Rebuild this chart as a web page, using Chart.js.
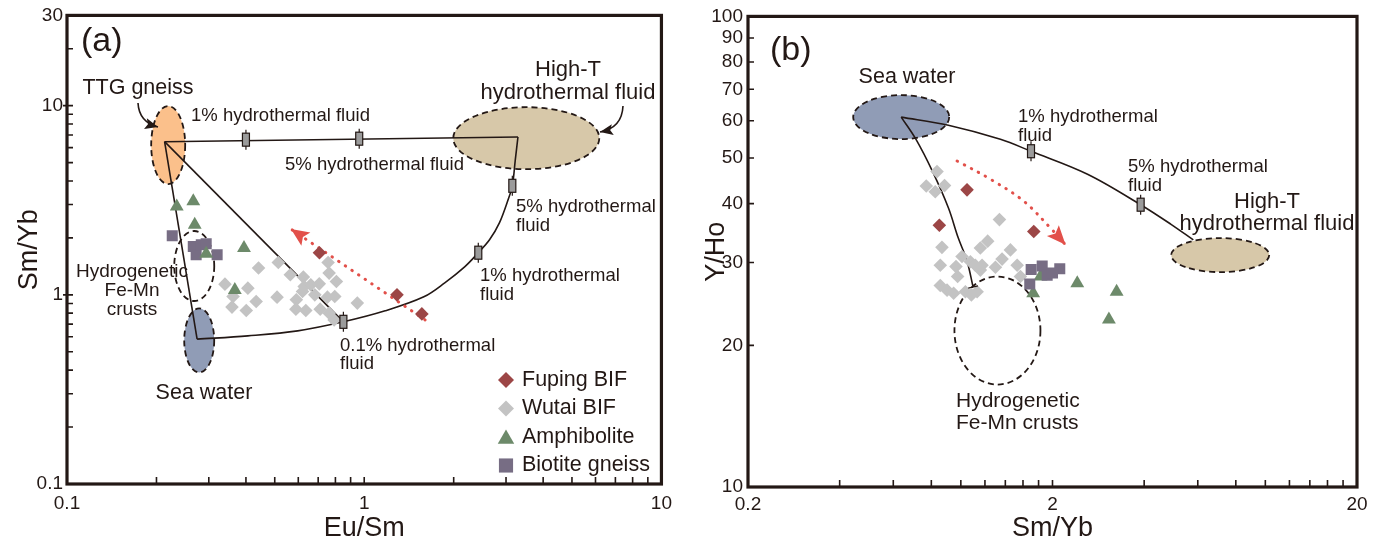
<!DOCTYPE html>
<html>
<head>
<meta charset="utf-8">
<title>Eu/Sm - Sm/Yb and Sm/Yb - Y/Ho mixing diagrams</title>
<script src="https://cdn.jsdelivr.net/npm/chart.js@4.4.1/dist/chart.umd.min.js"></script>
<style>
  body { margin: 0; background: #fff; }
  #wrap { position: relative; width: 1388px; height: 545px; overflow: hidden; }
  #wrap canvas { position: absolute; top: 0; }
  #chartA { left: 0; }
  #chartB { left: 680px; }
</style>
</head>
<body>
<div id="wrap">
  <canvas id="chartA" width="680" height="545"></canvas>
  <canvas id="chartB" width="708" height="545"></canvas>
</div>
<script>
const seriesNames = ["Fuping BIF", "Wutai BIF", "Amphibolite", "Biotite gneiss"];

/* ---- panel (a): Eu/Sm vs Sm/Yb ---- */
const aXTicks = [0.1, 1, 10];
const aYTicks = [0.1, 1, 10, 30];
const fupingA = [[0.707, 1.67], [1.289, 1.0], [1.563, 0.793]];
const wutaiA = [[0.441, 1.385], [0.514, 1.482], [0.564, 1.276], [0.624, 1.241], [0.340, 1.139], [0.406, 1.085],
  [0.362, 0.979], [0.433, 0.922], [0.509, 0.972], [0.591, 0.941], [0.620, 1.041], [0.628, 1.106], [0.661, 1.129],
  [0.706, 1.143], [0.682, 1.0], [0.752, 0.972], [0.796, 0.979], [0.756, 1.482], [0.762, 1.303], [0.806, 1.176],
  [0.359, 0.861], [0.401, 0.826], [0.589, 0.840], [0.636, 0.826], [0.711, 0.840], [0.762, 0.800], [0.792, 0.737],
  [0.948, 0.904]];
const amphA = [[0.234, 2.93], [0.266, 3.12], [0.269, 2.35], [0.294, 1.65], [0.394, 1.77], [0.367, 1.06]];
const biotiteA = [[0.226, 2.05], [0.266, 1.80], [0.272, 1.63], [0.283, 1.84], [0.294, 1.86], [0.320, 1.63]];

// end members and mixing lines (a)
const ttgA = [0.213, 6.45];
const seaA = [0.274, 0.583];
const highTA = [3.29, 6.83];
const mix01A = [0.851, 0.72];
const curveSeaHighTA = [seaA, [0.406, 0.607], [0.597, 0.645], mix01A, [1.176, 0.823], [1.587, 0.976], [1.866, 1.157],
  [2.177, 1.406], [2.42, 1.67], [2.64, 1.954], [2.85, 2.40], [3.048, 3.18], [3.15, 3.77], [3.224, 5.18], highTA];
const marksA = [[0.40, 6.61], [0.962, 6.69], [3.15, 3.77], [2.42, 1.67], mix01A];
const trendA = [[1.603, 0.737], [0.567, 2.227]];
const ttgFieldA = [0.219, 6.19];
const seaFieldA = [0.2785, 0.574];
const highTFieldA = [3.51, 6.73];
const hydroFieldA = [0.268, 1.42];

/* ---- panel (b): Sm/Yb vs Y/Ho ---- */
const bXTicks = [0.2, 2, 20];
const bYTicks = [10, 20, 30, 40, 50, 60, 70, 80, 90, 100];
const fupingB = [[1.048, 42.8], [0.850, 36.0], [1.736, 34.9]];
const wutaiB = [[0.835, 46.8], [0.770, 43.6], [0.824, 42.4], [0.884, 43.7], [1.339, 37.0], [0.867, 32.3], [1.225, 33.3],
  [1.159, 32.2], [1.009, 30.9], [0.856, 29.6], [0.964, 29.4], [1.075, 30.1], [1.116, 29.6], [1.174, 29.6], [1.159, 28.9],
  [1.299, 29.3], [1.366, 30.5], [1.455, 31.9], [1.531, 29.6], [0.976, 28.0], [0.856, 26.8], [0.901, 26.2], [0.947, 25.8],
  [1.035, 26.0], [1.083, 25.6], [1.131, 26.0], [1.569, 28.0]];
const amphB = [[1.728, 25.8], [2.412, 27.1], [3.248, 26.0], [3.064, 22.7], [1.826, 28.0]];
const biotiteB = [[1.702, 29.0], [1.850, 29.5], [1.921, 28.2], [2.113, 29.1], [1.684, 27.0], [2.0, 28.5]];

const seaB = [0.637, 61.1];
const curveSeaHighTB = [seaB, [0.910, 58.7], [1.349, 54.8], [1.70, 51.7], [2.607, 46.2], [3.895, 39.8], [4.888, 36.2], [5.80, 33.5]];
const curveSeaHydroB = [seaB, [0.711, 54.9], [0.805, 47.0], [0.910, 39.2], [0.981, 33.8], [1.047, 30.3], [1.097, 26.6]];
const marksB = [[1.70, 51.7], [3.895, 39.8]];
const trendB = [[0.972, 49.3], [1.250, 45.1], [1.609, 40.5], [1.970, 35.5], [2.208, 32.7]];
const highTFieldB = [7.11, 31.1];
const hydroFieldB = [1.319, 21.5];

/* ---- styling ---- */
const FONT = '"Liberation Sans", Arial, Helvetica, sans-serif';
const INK = "#231815";
const RED = "#e2504a";
const COLORS = ["#9c4646", "#c3c3c3", "#6d8a6a", "#776d84"];

Chart.defaults.font.family = FONT;
Chart.defaults.color = INK;

const xy = pts => pts.map(p => ({ x: p[0], y: p[1] }));

function lineDs(pts, extra) {
    return Object.assign({
        data: xy(pts), showLine: true, pointRadius: 0, borderColor: INK,
        borderWidth: 1.6, tension: 0.35, fill: false, order: 10
    }, extra || {});
}

function dotDs(label, pts, style, r, color, order) {
    return {
        label: label, data: xy(pts), showLine: false, pointStyle: style,
        pointRadius: r, pointHoverRadius: r, backgroundColor: color, borderWidth: 0, order: order
    };
}

function minorTicks(decades, steps) {
    let out = [];
    decades.forEach(d => steps.forEach(k => out.push(+(k * d).toFixed(3))));
    return out;
}

/* ---- drawing helpers ---- */
function P(chart, p) {
    return [chart.scales.x.getPixelForValue(p[0]), chart.scales.y.getPixelForValue(p[1])];
}

function ellipse(ctx, c, rx, ry, fill) {
    ctx.save();
    ctx.beginPath();
    ctx.ellipse(c[0], c[1], rx, ry, 0, 0, Math.PI * 2);
    if (fill) { ctx.fillStyle = fill; ctx.fill(); }
    ctx.setLineDash([6, 4]);
    ctx.lineWidth = 1.8;
    ctx.strokeStyle = INK;
    ctx.stroke();
    ctx.restore();
}

function mixMark(ctx, c) {
    ctx.save();
    ctx.strokeStyle = INK;
    ctx.lineWidth = 1.2;
    ctx.beginPath();
    ctx.moveTo(c[0], c[1] - 10);
    ctx.lineTo(c[0], c[1] + 10);
    ctx.stroke();
    ctx.fillStyle = "#9b9b9b";
    ctx.fillRect(c[0] - 3.5, c[1] - 6.5, 7, 13);
    ctx.strokeRect(c[0] - 3.5, c[1] - 6.5, 7, 13);
    ctx.restore();
}

function head(ctx, from, tip, len, half, color) {
    const a = Math.atan2(tip[1] - from[1], tip[0] - from[0]);
    ctx.save();
    ctx.translate(tip[0], tip[1]);
    ctx.rotate(a);
    ctx.beginPath();
    ctx.moveTo(0, 0);
    ctx.lineTo(-len, -half);
    ctx.lineTo(-len * 0.8, 0);
    ctx.lineTo(-len, half);
    ctx.closePath();
    ctx.fillStyle = color;
    ctx.fill();
    ctx.restore();
}

function pointer(ctx, from, ctrl, tip) {
    ctx.save();
    ctx.strokeStyle = INK;
    ctx.lineWidth = 1.6;
    ctx.beginPath();
    ctx.moveTo(from[0], from[1]);
    ctx.quadraticCurveTo(ctrl[0], ctrl[1], tip[0], tip[1]);
    ctx.stroke();
    ctx.restore();
    head(ctx, ctrl, tip, 13, 5.5, INK);
}

function label(ctx, s, x, y, size, align) {
    ctx.save();
    ctx.font = size + "px " + FONT;
    ctx.fillStyle = INK;
    ctx.textAlign = align || "left";
    ctx.textBaseline = "middle";
    ctx.fillText(s, x, y);
    ctx.restore();
}

function frame(chart, xMajor, xMinor, yMajor, yMinor, yOut) {
    const { ctx, chartArea: a, scales: { x, y } } = chart;
    ctx.save();
    ctx.strokeStyle = INK;
    ctx.lineWidth = 1.6;
    ctx.beginPath();
    xMajor.concat(xMinor).forEach(v => {
        const p = x.getPixelForValue(v);
        ctx.moveTo(p, a.bottom);
        ctx.lineTo(p, a.bottom - 7);
    });
    yMinor.forEach(v => {
        const p = y.getPixelForValue(v);
        ctx.moveTo(a.left, p);
        ctx.lineTo(a.left + 6, p);
    });
    yMajor.forEach(v => {
        const p = y.getPixelForValue(v);
        ctx.moveTo(a.left - yOut, p);
        ctx.lineTo(a.left + 6, p);
    });
    ctx.stroke();
    ctx.lineWidth = 3.2;
    ctx.strokeRect(a.left, a.top, a.right - a.left, a.bottom - a.top);
    ctx.restore();
}

function logAxis(min, max, ticks, fitKey, fitVal, title, titlePad, tickPad) {
    return {
        type: "logarithmic", min: min, max: max,
        afterBuildTicks: s => { s.ticks = ticks.map(v => ({ value: v })); },
        afterFit: s => { s[fitKey] = fitVal; },
        grid: { display: false, drawTicks: false },
        border: { display: false },
        ticks: { autoSkip: false, maxRotation: 0, padding: tickPad, font: { size: 19 }, color: INK, callback: v => String(v) },
        title: { display: true, text: title, font: { size: 27 }, color: INK, padding: titlePad }
    };
}

/* ---- panel (a) ---- */
const decorA = {
    id: "decorA",
    beforeDatasetsDraw(chart) {
        const ctx = chart.ctx;
        ellipse(ctx, P(chart, ttgFieldA), 17, 39, "#fbc08b");
        ellipse(ctx, P(chart, seaFieldA), 15, 32, "#909cb6");
        ellipse(ctx, P(chart, highTFieldA), 73, 31, "#d7c8a9");
        ellipse(ctx, P(chart, hydroFieldA), 20, 35, null);
    },
    afterDatasetsDraw(chart) {
        const ctx = chart.ctx;
        marksA.forEach(m => mixMark(ctx, P(chart, m)));
        head(ctx, P(chart, trendA[0]), P(chart, trendA[1]), 18, 8, RED);

        pointer(ctx, [138, 103], [139, 122], [158, 127]);
        pointer(ctx, [623, 106], [622, 128], [600, 132]);

        label(ctx, "(a)", 81, 42, 34);
        label(ctx, "TTG gneiss", 138, 88, 21.5, "center");
        label(ctx, "1% hydrothermal fluid", 191, 116, 18.5);
        label(ctx, "5% hydrothermal fluid", 285, 165, 18.5);
        label(ctx, "High-T", 568, 70, 22, "center");
        label(ctx, "hydrothermal fluid", 568, 93, 22, "center");
        label(ctx, "5% hydrothermal", 516, 207, 18.5);
        label(ctx, "fluid", 516, 226, 18.5);
        label(ctx, "1% hydrothermal", 480, 276, 18.5);
        label(ctx, "fluid", 480, 295, 18.5);
        label(ctx, "0.1% hydrothermal", 340, 346, 18.5);
        label(ctx, "fluid", 340, 364, 18.5);
        label(ctx, "Hydrogenetic", 132, 272, 19, "center");
        label(ctx, "Fe-Mn", 132, 291, 19, "center");
        label(ctx, "crusts", 132, 310, 19, "center");
        label(ctx, "Sea water", 204, 393, 21.5, "center");

        // legend
        const styles = [["rectRot", 8], ["rectRot", 8], ["triangle", 9.5], ["rect", 10]];
        seriesNames.forEach((name, i) => {
            const yy = 380 + i * 28.5;
            ctx.save();
            ctx.fillStyle = COLORS[i];
            Chart.helpers.drawPoint(ctx, { pointStyle: styles[i][0], radius: styles[i][1], rotation: 0, borderWidth: 0 },
                506, styles[i][0] === "triangle" ? yy + 2 : yy);
            ctx.restore();
            label(ctx, name, 522, yy, 21.5);
        });
    },
    afterDraw(chart) {
        frame(chart, aXTicks, minorTicks([0.1, 1], [2, 3, 4, 5, 6, 7, 8, 9]),
            [1, 10], minorTicks([0.1, 1], [2, 3, 4, 5, 6, 7, 8, 9]).concat([20]), 4);
    }
};

new Chart(document.getElementById("chartA"), {
    type: "scatter",
    data: {
        datasets: [
            lineDs([ttgA, highTA], { tension: 0 }),
            lineDs([ttgA, mix01A], { tension: 0 }),
            lineDs([ttgA, seaA], { tension: 0 }),
            lineDs(curveSeaHighTA),
            lineDs(trendA, { borderColor: RED, borderWidth: 3, borderDash: [0.5, 7.5], borderCapStyle: "round", tension: 0, order: 9 }),
            dotDs(seriesNames[1], wutaiA, "rectRot", 6.8, COLORS[1], 4),
            dotDs(seriesNames[0], fupingA, "rectRot", 6.8, COLORS[0], 3),
            dotDs(seriesNames[3], biotiteA, "rect", 7.8, COLORS[3], 2),
            dotDs(seriesNames[2], amphA, "triangle", 8, COLORS[2], 1)
        ]
    },
    options: {
        responsive: false,
        animation: false,
        events: [],
        layout: { padding: { top: 15, right: 14, left: 0, bottom: 0 } },
        plugins: { legend: { display: false }, tooltip: { enabled: false } },
        scales: {
            x: logAxis(0.1, 10, aXTicks, "height", 61, "Eu/Sm", { top: 0, bottom: 0 }, 8),
            y: logAxis(0.1, 30, aYTicks, "width", 67, "Sm/Yb", { top: 13, bottom: 0 }, 4)
        }
    },
    plugins: [decorA]
});

/* ---- panel (b) ---- */
const decorB = {
    id: "decorB",
    beforeDatasetsDraw(chart) {
        const ctx = chart.ctx;
        ellipse(ctx, P(chart, seaB), 48, 22, "#909cb6");
        ellipse(ctx, P(chart, highTFieldB), 49, 17, "#d7c8a9");
        ellipse(ctx, P(chart, hydroFieldB), 43, 54, null);
    },
    afterDatasetsDraw(chart) {
        const ctx = chart.ctx;
        marksB.forEach(m => mixMark(ctx, P(chart, m)));
        const n = trendB.length;
        head(ctx, P(chart, trendB[n - 2]), P(chart, trendB[n - 1]), 19, 8, RED);

        // short bar at the end of the sea water - crust line
        const e1 = P(chart, curveSeaHydroB[curveSeaHydroB.length - 2]);
        const e2 = P(chart, curveSeaHydroB[curveSeaHydroB.length - 1]);
        const ang = Math.atan2(e2[1] - e1[1], e2[0] - e1[0]) + Math.PI / 2;
        ctx.save();
        ctx.strokeStyle = INK;
        ctx.lineWidth = 1.4;
        ctx.beginPath();
        ctx.moveTo(e2[0] - Math.cos(ang) * 5, e2[1] - Math.sin(ang) * 5);
        ctx.lineTo(e2[0] + Math.cos(ang) * 5, e2[1] + Math.sin(ang) * 5);
        ctx.stroke();
        ctx.restore();

        label(ctx, "(b)", 90, 51, 34);
        label(ctx, "Sea water", 227, 77, 21.5, "center");
        label(ctx, "1% hydrothermal", 338, 117, 18.5);
        label(ctx, "fluid", 338, 136, 18.5);
        label(ctx, "5% hydrothermal", 448, 167, 18.5);
        label(ctx, "fluid", 448, 186, 18.5);
        label(ctx, "High-T", 587, 202, 22, "center");
        label(ctx, "hydrothermal fluid", 587, 224, 22, "center");
        label(ctx, "Hydrogenetic", 276, 401, 21);
        label(ctx, "Fe-Mn crusts", 276, 423, 21);
    },
    afterDraw(chart) {
        frame(chart, bXTicks, minorTicks([0.2, 2], [2, 3, 4, 5, 6, 7, 8, 9]),
            bYTicks, [], 0);
    }
};

new Chart(document.getElementById("chartB"), {
    type: "scatter",
    data: {
        datasets: [
            lineDs(curveSeaHighTB),
            lineDs(curveSeaHydroB),
            lineDs(trendB, { borderColor: RED, borderWidth: 3, borderDash: [0.5, 7.5], borderCapStyle: "round", order: 9 }),
            dotDs(seriesNames[1], wutaiB, "rectRot", 6.8, COLORS[1], 4),
            dotDs(seriesNames[0], fupingB, "rectRot", 6.8, COLORS[0], 3),
            dotDs(seriesNames[2], amphB, "triangle", 8, COLORS[2], 2),
            dotDs(seriesNames[3], biotiteB, "rect", 7.8, COLORS[3], 1)
        ]
    },
    options: {
        responsive: false,
        animation: false,
        events: [],
        layout: { padding: { top: 15, right: 31, left: 0, bottom: 0 } },
        plugins: { legend: { display: false }, tooltip: { enabled: false } },
        scales: {
            x: logAxis(0.2, 20, bXTicks, "height", 58, "Sm/Yb", { top: 0, bottom: 0 }, 6),
            y: logAxis(10, 100, bYTicks, "width", 68, "Y/Ho", { top: 20, bottom: 0 }, 5)
        }
    },
    plugins: [decorB]
});
</script>
</body>
</html>
